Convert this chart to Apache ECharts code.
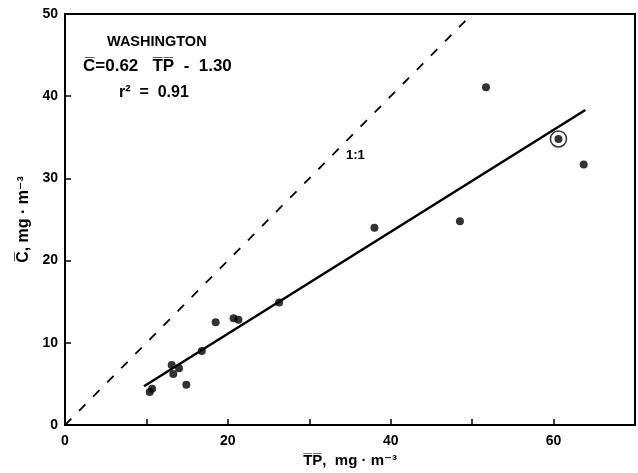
<!DOCTYPE html>
<html>
<head>
<meta charset="utf-8">
<script src="https://cdn.jsdelivr.net/npm/echarts@6/dist/echarts.min.js"></script>
<style>
  html, body { margin: 0; padding: 0; background: #fff; }
  #chart { width: 638px; height: 473px; }
</style>
</head>
<body>
<div id="chart"></div>
<script>
// Mean total phosphorus vs mean chlorophyll, Washington lakes
const tpValues = [10.4, 10.7, 13.1, 13.3, 14.0, 14.9, 16.8, 18.5, 20.7, 21.3, 26.3, 38.0, 48.5, 51.7, 60.6, 63.7];
const chlValues = [4.0, 4.4, 7.3, 6.2, 6.9, 4.9, 9.0, 12.5, 13.0, 12.8, 14.9, 24.0, 24.8, 41.1, 34.8, 31.7];

// highlighted (circled) observation
const circledTp = [60.6];
const circledChl = [34.8];

// regression: C = 0.62 TP - 1.30, drawn over the observed TP range
const fitSlope = 0.62;
const fitIntercept = -1.30;
const fitRangeTp = [9.7, 63.9];

// 1:1 reference line
const oneToOne = [0, 49.3];

const xTickLabels = ['0', '', '20', '', '40', '', '60', ''];
const yTickLabels = ['0', '10', '20', '30', '40', '50'];

const FONT = '"Liberation Sans", "DejaVu Sans", Arial, sans-serif';

const chart = echarts.init(document.getElementById('chart'), null, { renderer: 'canvas' });

const points = tpValues.map((x, i) => [x, chlValues[i]]);
const circled = circledTp.map((x, i) => [x, circledChl[i]]);
const fitLine = fitRangeTp.map(x => [x, fitSlope * x + fitIntercept]);
const identity = oneToOne.map(v => [v, v]);

chart.setOption({
  animation: false,
  backgroundColor: '#ffffff',
  grid: {
    left: 65, right: 2, top: 14, bottom: 47,
    show: true, borderColor: '#000', borderWidth: 2, backgroundColor: 'transparent'
  },
  xAxis: {
    type: 'value', min: 0, max: 70, interval: 10,
    name: 'T\u0305P\u0305,  mg · m\u207B\u00B3',
    nameLocation: 'middle', nameGap: 28,
    nameTextStyle: { color: '#000', fontFamily: FONT, fontWeight: 'bold', fontSize: 15 },
    axisLine: { show: true, lineStyle: { color: '#000', width: 2 } },
    axisTick: { show: true, inside: true, length: 6, lineStyle: { color: '#000', width: 1.5 } },
    axisLabel: {
      color: '#000', fontFamily: FONT, fontWeight: 'bold', fontSize: 14, margin: 9,
      formatter: (v) => xTickLabels[Math.round(v / 10)] || ''
    },
    splitLine: { show: false }
  },
  yAxis: {
    type: 'value', min: 0, max: 50, interval: 10,
    name: 'C\u0305, mg · m\u207B\u00B3',
    nameLocation: 'middle', nameGap: 30, nameRotate: 90,
    nameTextStyle: { color: '#000', fontFamily: FONT, fontWeight: 'bold', fontSize: 16 },
    axisLine: { show: true, lineStyle: { color: '#000', width: 2 } },
    axisTick: { show: true, inside: true, length: 6, lineStyle: { color: '#000', width: 1.5 } },
    axisLabel: {
      color: '#000', fontFamily: FONT, fontWeight: 'bold', fontSize: 14, margin: 7,
      formatter: (v) => yTickLabels[Math.round(v / 10)]
    },
    splitLine: { show: false }
  },
  series: [
    {
      name: '1:1', type: 'line', data: identity, symbol: 'none',
      lineStyle: { color: '#000', width: 1.8, type: [9, 11] },
      silent: true
    },
    {
      name: 'fit', type: 'line', data: fitLine, symbol: 'none',
      lineStyle: { color: '#000', width: 2.5 },
      silent: true
    },
    {
      name: 'lakes', type: 'scatter', data: points,
      symbol: 'circle', symbolSize: 8,
      itemStyle: { color: '#000' }
    },
    {
      name: 'circled', type: 'scatter', data: circled,
      symbol: 'circle', symbolSize: 16,
      itemStyle: { color: 'transparent', borderColor: '#000', borderWidth: 1.5 }
    }
  ],
  graphic: [
    { type: 'text', left: 107, top: 34,
      style: { text: 'WASHINGTON', fill: '#000', font: 'bold 14.5px ' + FONT } },
    { type: 'text', left: 83, top: 58,
      style: { text: 'C\u0305=0.62   T\u0305P\u0305  -  1.30', fill: '#000', font: 'bold 17px ' + FONT } },
    { type: 'text', left: 119, top: 85,
      style: { text: 'r\u00B2  =  0.91', fill: '#000', font: 'bold 16px ' + FONT } },
    { type: 'text', left: 346, top: 149,
      style: { text: '1:1', fill: '#000', font: 'bold 13px ' + FONT } }
  ]
});
</script>
</body>
</html>
